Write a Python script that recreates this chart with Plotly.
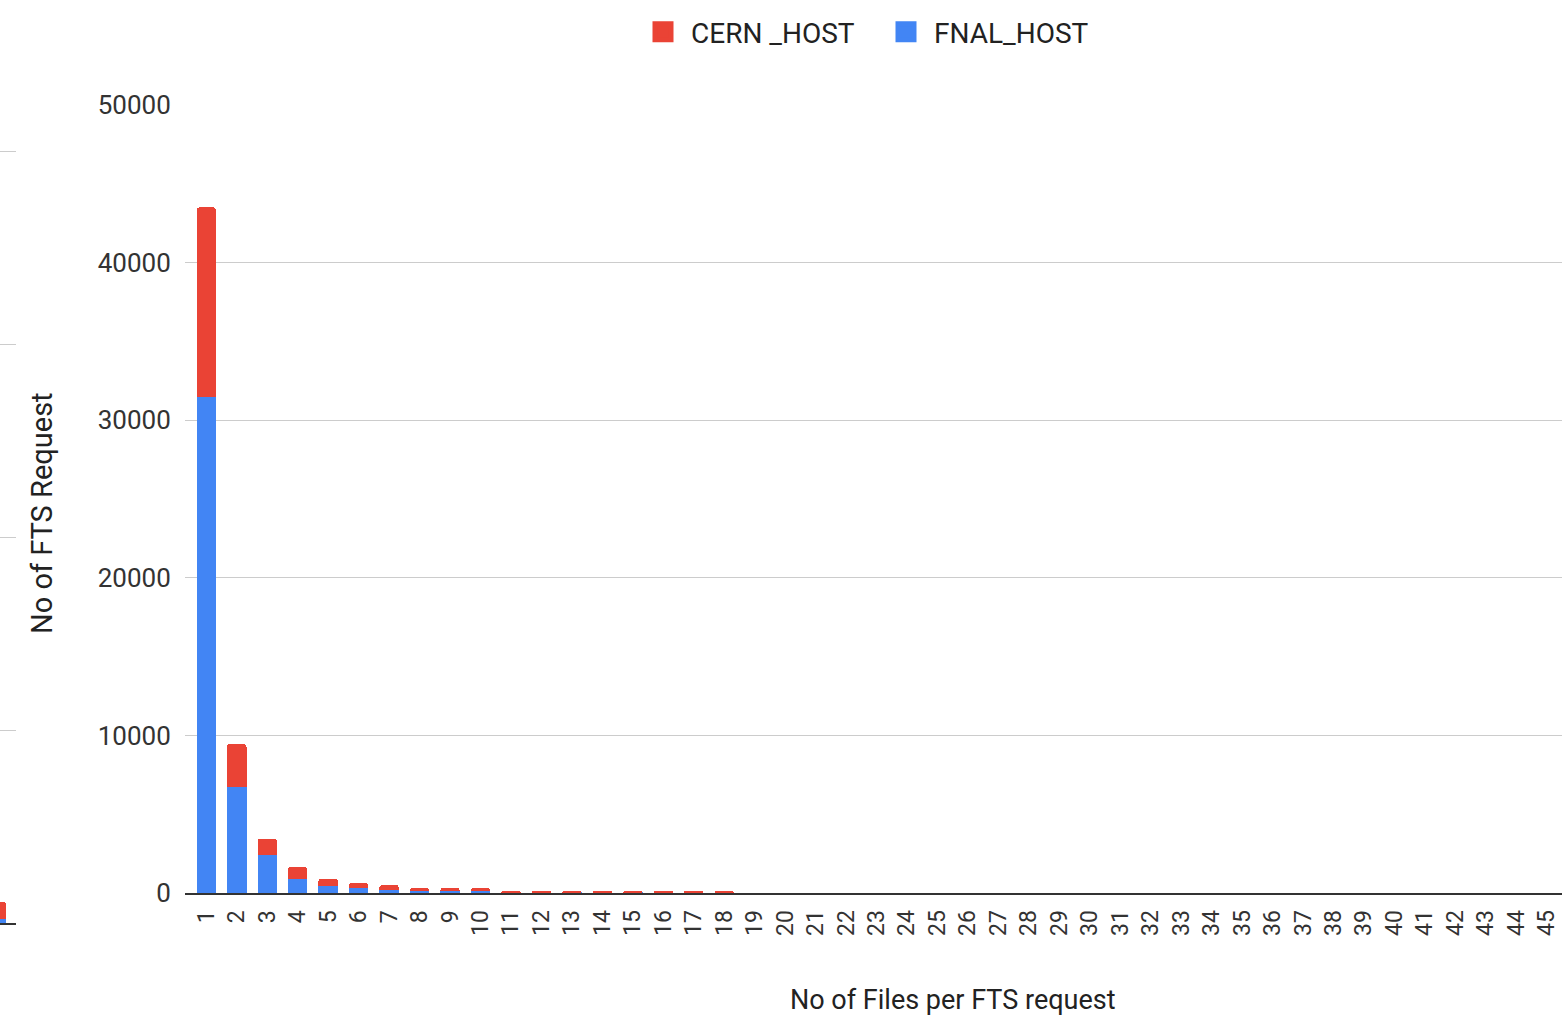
import plotly.graph_objects as go

W, H = 1562, 1020

# Number of files bundled into one FTS request
files_per_request = [str(i) for i in range(1, 46)]

# Request counts per host, stacked (FNAL at the bottom, CERN on top)
fnal_host = [31500, 6700, 2400, 900, 450, 320, 200, 150, 150, 150,
             40, 40, 40, 40, 40, 40, 40, 40] + [0] * 27
cern_host = [12000, 2750, 1050, 750, 450, 310, 300, 170, 170, 170,
             90, 90, 90, 90, 90, 90, 90, 90] + [0] * 27

y_ticks = [0, 10000, 20000, 30000, 40000, 50000]

# Neighbouring panel, only its right edge shows at the left border
side_category = ["45"]
side_fnal = [200]
side_cern = [900]
side_ticks = [0, 10000, 20000, 30000, 40000]

RED = "#EA4335"
BLUE = "#4285F4"
FONT = "Roboto"


def px_x(p):
    return p / W


def px_y(p):
    return (H - p) / H


fig = go.Figure()

fig.add_trace(go.Bar(x=files_per_request, y=fnal_host, name="FNAL_HOST",
                     marker=dict(color=BLUE, line=dict(width=0)),
                     showlegend=False, legendgroup="fnal"))
fig.add_trace(go.Bar(x=files_per_request, y=cern_host, name="CERN _HOST",
                     marker=dict(color=RED, line=dict(width=0)),
                     showlegend=False, legendgroup="cern"))

fig.add_trace(go.Bar(x=side_category, y=side_fnal, xaxis="x2", yaxis="y2",
                     marker=dict(color=BLUE, line=dict(width=0)),
                     showlegend=False, hoverinfo="skip"))
fig.add_trace(go.Bar(x=side_category, y=side_cern, xaxis="x2", yaxis="y2",
                     marker=dict(color=RED, line=dict(width=0)),
                     showlegend=False, hoverinfo="skip"))

# Legend entries with larger square swatches
for name, color, grp in [("CERN _HOST", RED, "cern"), ("FNAL_HOST", BLUE, "fnal")]:
    fig.add_trace(go.Scatter(x=[None], y=[None], mode="markers", name=name,
                             legendgroup=grp,
                             marker=dict(symbol="square", size=16, color=color,
                                         line=dict(color=color, width=5))))

fig.update_layout(
    width=W, height=H,
    margin=dict(l=0, r=0, t=0, b=0),
    paper_bgcolor="white", plot_bgcolor="white",
    barmode="stack", bargap=0.36, barcornerradius=3,
    font=dict(family=FONT, color="#333333", size=24),
    legend=dict(orientation="h", x=px_x(635), xanchor="left",
                y=px_y(32), yanchor="middle",
                itemwidth=46, entrywidth=182, entrywidthmode="pixels",
                font=dict(family=FONT, size=28, color="#222222"),
                traceorder="normal", itemclick=False),
    xaxis=dict(type="category", range=[-0.7, 44.5],
               domain=[px_x(185), 1], anchor="y", automargin=False,
               tickangle=-90, tickfont=dict(size=23, color="#333333"),
               showgrid=False, showline=True, linecolor="#333333", linewidth=2,
               ticks="outside", ticklen=6, tickcolor="white"),
    yaxis=dict(range=[0, 50000], tickvals=y_ticks,
               ticktext=[str(v) for v in y_ticks],
               domain=[px_y(893), px_y(105)], anchor="x", automargin=False,
               tickfont=dict(size=26, color="#333333"),
               showgrid=True, gridcolor="#cccccc", gridwidth=1,
               zeroline=False, showline=False,
               ticks="outside", ticklen=8, tickcolor="white"),
    xaxis2=dict(type="category", range=[0.12, 0.65],
                domain=[0, px_x(16)], anchor="y2", automargin=False,
                showticklabels=False, showgrid=False,
                showline=True, linecolor="#333333", linewidth=2),
    yaxis2=dict(range=[0, 40570], tickvals=side_ticks,
                domain=[px_y(923), px_y(140)], anchor="x2", automargin=False,
                showticklabels=False, showgrid=True, gridcolor="#cccccc",
                gridwidth=1, zeroline=False, showline=False),
    annotations=[
        dict(text="No of Files per FTS request", xref="paper", yref="paper",
             x=px_x(953), y=px_y(1000), xanchor="center", yanchor="middle",
             showarrow=False, font=dict(family=FONT, size=27, color="#222222")),
        dict(text="No of FTS Request", xref="paper", yref="paper",
             x=px_x(42), y=px_y(513), xanchor="center", yanchor="middle",
             textangle=-90, showarrow=False,
             font=dict(family=FONT, size=29, color="#222222")),
    ],
)

fig.write_html("out.html")
